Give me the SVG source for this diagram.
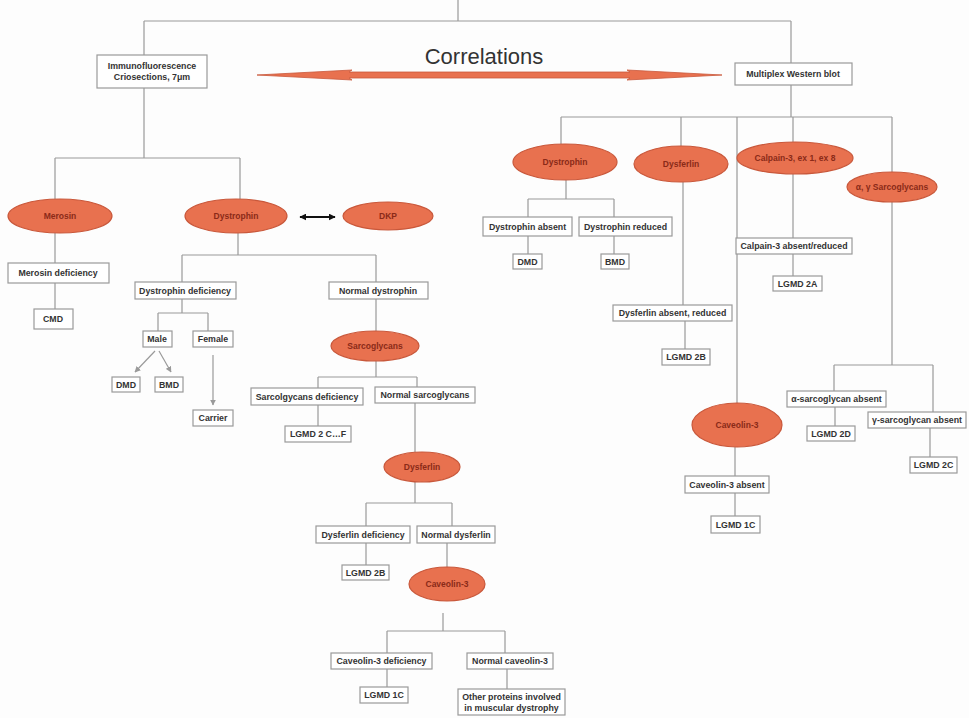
<svg xmlns="http://www.w3.org/2000/svg" width="969" height="718" viewBox="0 0 969 718">
<defs>
<style>
.bx{fill:#fff;stroke:#9a9a9a;stroke-width:1.2}
.el{fill:#E8714F;stroke:#c9583b;stroke-width:1.2}
.t{font-family:"Liberation Sans",Arial,sans-serif;font-size:8.8px;font-weight:bold;fill:#333;text-anchor:middle}
.te{font-family:"Liberation Sans",Arial,sans-serif;font-size:8.5px;font-weight:bold;fill:#8a2a18;text-anchor:middle}
.ln{stroke:#9a9a9a;stroke-width:1.2;fill:none}
</style>
<marker id="ah" viewBox="0 0 10 10" refX="9" refY="5" markerWidth="5" markerHeight="5" orient="auto-start-reverse"><path d="M0,0 L10,5 L0,10 z" fill="#9a9a9a"/></marker>
<marker id="bh" viewBox="0 0 10 10" refX="9" refY="5" markerWidth="3.5" markerHeight="3.5" orient="auto-start-reverse"><path d="M0,0 L10,5 L0,10 z" fill="#111"/></marker>
</defs>
<rect width="969" height="718" fill="#fdfdfd"/>
<g id="connectors">
<path class="ln" d="M458,0V21 M144,21H791 M144,21V55 M791,21V63 M144,88V158 M55,158H240 M55,158V199 M240,158V199 M55,233V263 M55,283V309 M238,233V255 M182,255H376 M182,255V282 M376,255V282 M182,299V313 M158,313H208 M158,313V331 M208,313V331 M376,299V331 M376,361V377 M318,377H417 M318,377V388 M417,377V387 M318,405V426 M415,403V452 M415,482V503 M366,503H452 M366,503V526 M452,503V526 M366,543V565 M447,543V567 M443,613V631 M387,631H505 M387,631V653 M505,631V653 M387,669V687 M507,669V689"/>
<path class="ln" d="M791,85V117 M561,117H892 M561,117V144 M681,117V146 M793,117V142 M892,117V172 M737,117V403 M566,180V199 M528,199H614 M528,199V217 M614,199V217 M528,236V254 M614,236V254 M793,174V238 M793,254V276 M683,182V305 M685,321V349 M892,202V365 M834,365H933 M834,365V391 M933,365V412 M835,407V426 M930,428V457 M735,447V476 M735,493V516"/>
<line class="ln" x1="155" y1="351" x2="135" y2="372" marker-end="url(#ah)"/>
<line class="ln" x1="159" y1="351" x2="171" y2="372" marker-end="url(#ah)"/>
<line class="ln" x1="213" y1="355" x2="213" y2="405" stroke-width="0.8" marker-end="url(#ah)"/>
<line x1="300" y1="217" x2="335" y2="217" stroke="#111" stroke-width="2" marker-start="url(#bh)" marker-end="url(#bh)"/>
<polygon points="257,75 352,70 349,72 630,72 627,70 722,75 627,80 630,78 349,78 352,80" fill="#E8714F" stroke="#c9583b" stroke-width="0.8"/>
</g>
<text x="484" y="64" font-family="Liberation Sans,Arial,sans-serif" font-size="22" fill="#333" text-anchor="middle">Correlations</text>
<g id="n_if"><rect class="bx" x="97" y="55" width="110" height="33"/><text class="t" x="152" y="69">Immunofluorescence</text><text class="t" x="152" y="80">Criosections, 7μm</text></g>
<g id="n_mwb"><rect class="bx" x="735" y="63" width="117" height="22"/><text class="t" x="793" y="77">Multiplex Western blot</text></g>
<g id="e_merosin"><ellipse class="el" cx="60" cy="216" rx="52" ry="17"/><text class="te" x="60" y="219">Merosin</text></g>
<g id="e_dystrophin1"><ellipse class="el" cx="236" cy="216" rx="51" ry="17"/><text class="te" x="236" y="219">Dystrophin</text></g>
<g id="e_dkp"><ellipse class="el" cx="388" cy="216" rx="45" ry="14"/><text class="te" x="388" y="219">DKP</text></g>
<g id="n_merdef"><rect class="bx" x="8" y="263" width="101" height="20"/><text class="t" x="58" y="276">Merosin deficiency</text></g>
<g id="n_cmd"><rect class="bx" x="34" y="309" width="39" height="20"/><text class="t" x="53" y="322">CMD</text></g>
<g id="n_dysdef"><rect class="bx" x="135" y="282" width="101" height="17"/><text class="t" x="185" y="293.5">Dystrophin deficiency</text></g>
<g id="n_normdys"><rect class="bx" x="329" y="282" width="99" height="17"/><text class="t" x="378" y="293.5">Normal dystrophin</text></g>
<g id="n_male"><rect class="bx" x="143" y="331" width="29" height="16"/><text class="t" x="157" y="342">Male</text></g>
<g id="n_female"><rect class="bx" x="193" y="331" width="40" height="16"/><text class="t" x="213" y="342">Female</text></g>
<g id="n_dmd1"><rect class="bx" x="112" y="377" width="28" height="15"/><text class="t" x="126" y="387.5">DMD</text></g>
<g id="n_bmd1"><rect class="bx" x="155" y="377" width="28" height="15"/><text class="t" x="169" y="387.5">BMD</text></g>
<g id="n_carrier"><rect class="bx" x="193" y="410" width="40" height="16"/><text class="t" x="213" y="421">Carrier</text></g>
<g id="e_sarco1"><ellipse class="el" cx="375" cy="346" rx="44" ry="15"/><text class="te" x="375" y="349">Sarcoglycans</text></g>
<g id="n_sgdef"><rect class="bx" x="251" y="388" width="112" height="17"/><text class="t" x="307" y="399.5">Sarcolgycans deficiency</text></g>
<g id="n_normsg"><rect class="bx" x="375" y="387" width="100" height="16"/><text class="t" x="425" y="398">Normal sarcoglycans</text></g>
<g id="n_lgmd2cf"><rect class="bx" x="285" y="426" width="66" height="16"/><text class="t" x="318" y="437">LGMD 2 C…F</text></g>
<g id="e_dysf1"><ellipse class="el" cx="422" cy="467" rx="38" ry="15"/><text class="te" x="422" y="470">Dysferlin</text></g>
<g id="n_dysfdef"><rect class="bx" x="316" y="526" width="94" height="17"/><text class="t" x="363" y="537.5">Dysferlin deficiency</text></g>
<g id="n_normdysf"><rect class="bx" x="417" y="526" width="78" height="17"/><text class="t" x="456" y="537.5">Normal dysferlin</text></g>
<g id="n_lgmd2b1"><rect class="bx" x="342" y="565" width="47" height="15"/><text class="t" x="365.5" y="575.5">LGMD 2B</text></g>
<g id="e_cav1"><ellipse class="el" cx="447" cy="584" rx="38" ry="17"/><text class="te" x="447" y="587">Caveolin-3</text></g>
<g id="n_cavdef"><rect class="bx" x="331" y="653" width="101" height="16"/><text class="t" x="381.5" y="664">Caveolin-3 deficiency</text></g>
<g id="n_normcav"><rect class="bx" x="467" y="653" width="86" height="16"/><text class="t" x="510" y="664">Normal caveolin-3</text></g>
<g id="n_lgmd1c1"><rect class="bx" x="360" y="687" width="48" height="16"/><text class="t" x="384" y="698">LGMD 1C</text></g>
<g id="n_other"><rect class="bx" x="458" y="689" width="107" height="26"/><text class="t" x="511.5" y="700">Other proteins involved</text><text class="t" x="511.5" y="711">in muscular dystrophy</text></g>
<g id="e_dystrophin2"><ellipse class="el" cx="565" cy="162" rx="52" ry="18"/><text class="te" x="565" y="165">Dystrophin</text></g>
<g id="e_dysf2"><ellipse class="el" cx="681" cy="164" rx="47" ry="18"/><text class="te" x="681" y="167">Dysferlin</text></g>
<g id="e_calpain"><ellipse class="el" cx="795" cy="158" rx="58" ry="16"/><text class="te" x="795" y="161">Calpain-3, ex 1, ex 8</text></g>
<g id="e_sarco2"><ellipse class="el" cx="892" cy="187" rx="45" ry="15"/><text class="te" x="892" y="190">α, γ Sarcoglycans</text></g>
<g id="n_dysabs"><rect class="bx" x="483" y="217" width="89" height="19"/><text class="t" x="527.5" y="229.5">Dystrophin absent</text></g>
<g id="n_dysred"><rect class="bx" x="579" y="217" width="93" height="19"/><text class="t" x="625.5" y="229.5">Dystrophin reduced</text></g>
<g id="n_dmd2"><rect class="bx" x="513" y="254" width="29" height="15"/><text class="t" x="527.5" y="264.5">DMD</text></g>
<g id="n_bmd2"><rect class="bx" x="601" y="254" width="28" height="15"/><text class="t" x="615" y="264.5">BMD</text></g>
<g id="n_calpabs"><rect class="bx" x="736" y="238" width="116" height="16"/><text class="t" x="794" y="249">Calpain-3 absent/reduced</text></g>
<g id="n_lgmd2a"><rect class="bx" x="773" y="276" width="49" height="15"/><text class="t" x="797.5" y="286.5">LGMD 2A</text></g>
<g id="n_dysfabs"><rect class="bx" x="613" y="305" width="119" height="16"/><text class="t" x="672.5" y="316">Dysferlin absent, reduced</text></g>
<g id="n_lgmd2b2"><rect class="bx" x="662" y="349" width="48" height="16"/><text class="t" x="686" y="360">LGMD 2B</text></g>
<g id="e_cav2"><ellipse class="el" cx="737" cy="425" rx="45" ry="22"/><text class="te" x="737" y="428">Caveolin-3</text></g>
<g id="n_cavabs"><rect class="bx" x="685" y="476" width="84" height="17"/><text class="t" x="727" y="487.5">Caveolin-3 absent</text></g>
<g id="n_lgmd1c2"><rect class="bx" x="711" y="516" width="49" height="17"/><text class="t" x="735.5" y="527.5">LGMD 1C</text></g>
<g id="n_asg"><rect class="bx" x="787" y="391" width="99" height="16"/><text class="t" x="836.5" y="402">α-sarcoglycan absent</text></g>
<g id="n_lgmd2d"><rect class="bx" x="807" y="426" width="48" height="15"/><text class="t" x="831" y="436.5">LGMD 2D</text></g>
<g id="n_gsg"><rect class="bx" x="868" y="412" width="98" height="16"/><text class="t" x="917" y="423">γ-sarcoglycan absent</text></g>
<g id="n_lgmd2c"><rect class="bx" x="910" y="457" width="47" height="16"/><text class="t" x="933.5" y="468">LGMD 2C</text></g>
</svg>
